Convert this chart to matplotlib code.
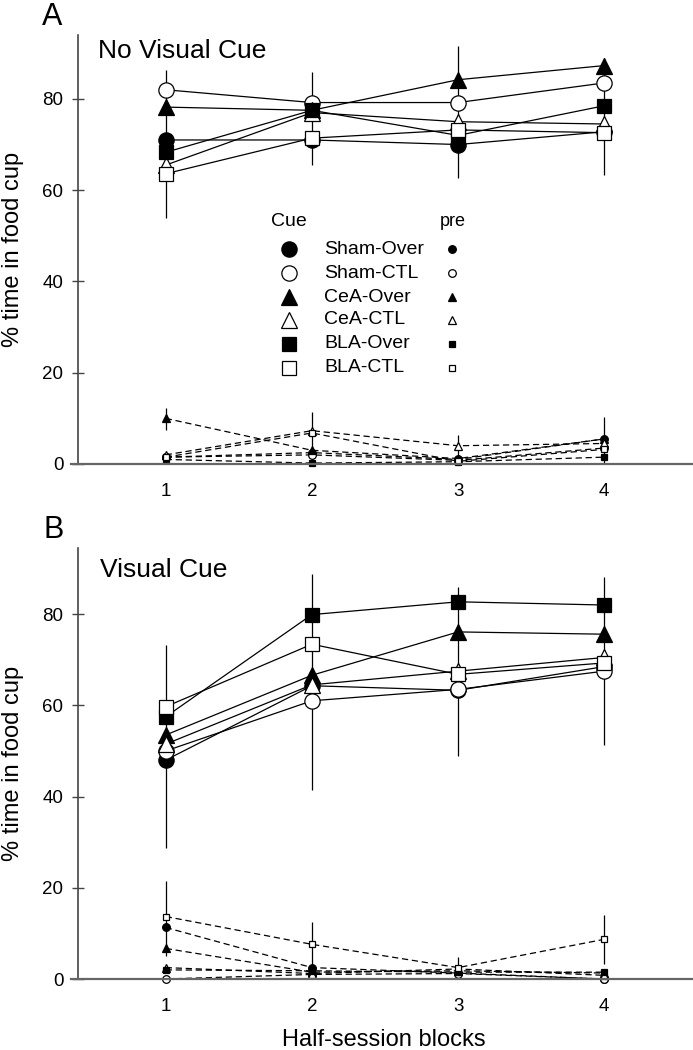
import matplotlib
matplotlib.use('Agg')
import matplotlib.pyplot as plt

plt.rcParams['font.family'] = ['Liberation Sans', 'DejaVu Sans']

blocks = [1, 2, 3, 4]
groups = ['Sham-Over', 'Sham-CTL', 'CeA-Over', 'CeA-CTL', 'BLA-Over', 'BLA-CTL']

# panel A - no visual cue
a_cue = {
    'Sham-Over': [71.0, 71.0, 70.0, 72.8],
    'Sham-CTL': [82.0, 79.2, 79.2, 83.5],
    'CeA-Over': [78.2, 77.5, 84.2, 87.3],
    'CeA-CTL': [65.5, 77.0, 75.0, 74.5],
    'BLA-Over': [68.3, 77.5, 72.0, 78.5],
    'BLA-CTL': [63.6, 71.4, 73.2, 72.6],
}
a_pre = {
    'Sham-Over': [1.5, 2.5, 1.0, 5.5],
    'Sham-CTL': [1.5, 2.0, 0.8, 3.5],
    'CeA-Over': [10.0, 3.0, 1.2, 5.5],
    'CeA-CTL': [2.0, 7.3, 4.0, 4.5],
    'BLA-Over': [1.0, 0.2, 0.5, 1.5],
    'BLA-CTL': [1.5, 6.8, 0.6, 3.2],
}
a_cue_err_lo = [53.8, 65.5, 62.6, 63.3]
a_cue_err_hi = [86.4, 86.0, 91.5, 89.0]
a_pre_err_lo = [7.5, 0.0, 0.0, 0.0]
a_pre_err_hi = [12.3, 11.5, 6.4, 10.4]

# panel B - visual cue
b_cue = {
    'Sham-Over': [48.0, 64.3, 63.3, 68.5],
    'Sham-CTL': [50.0, 61.0, 63.5, 67.5],
    'CeA-Over': [53.5, 66.6, 76.1, 75.6],
    'CeA-CTL': [51.5, 64.5, 67.5, 70.5],
    'BLA-Over': [57.5, 79.9, 82.7, 82.0],
    'BLA-CTL': [59.7, 73.4, 66.8, 69.3],
}
b_pre = {
    'Sham-Over': [11.3, 2.5, 1.3, 0.0],
    'Sham-CTL': [0.0, 1.0, 1.2, 0.0],
    'CeA-Over': [6.7, 1.5, 1.8, 1.3],
    'CeA-CTL': [2.5, 1.2, 2.2, 0.8],
    'BLA-Over': [2.0, 1.8, 1.5, 1.5],
    'BLA-CTL': [13.7, 7.6, 2.5, 8.7],
}
b_cue_err_lo = [28.7, 41.4, 49.0, 51.3]
b_cue_err_hi = [73.2, 88.9, 86.0, 88.2]
b_pre_err_lo = [5.0, 2.0, 1.0, 3.3]
b_pre_err_hi = [21.5, 12.6, 4.9, 14.0]

marker = {'Sham-Over': 'o', 'Sham-CTL': 'o', 'CeA-Over': '^', 'CeA-CTL': '^',
          'BLA-Over': 's', 'BLA-CTL': 's'}
filled = {'Sham-Over': True, 'Sham-CTL': False, 'CeA-Over': True, 'CeA-CTL': False,
          'BLA-Over': True, 'BLA-CTL': False}
msize = {'o': 11, '^': 11, 's': 10}
psize = {'o': 5.5, '^': 5.5, 's': 5}

fig = plt.figure(figsize=(6.93, 10.5), dpi=100)
axA = fig.add_axes([78 / 693, 1 - 464 / 1050, 614 / 693, 429 / 1050])
axB = fig.add_axes([78 / 693, 1 - 979 / 1050, 614 / 693, 431 / 1050])


def draw_panel(ax, cue, pre, c_lo, c_hi, p_lo, p_hi, ytop):
    ax.vlines(blocks, c_lo, c_hi, color='black', lw=0.9, zorder=1)
    ax.vlines(blocks, p_lo, p_hi, color='black', lw=0.9, zorder=1)
    for g in groups:
        m = marker[g]
        fc = 'black' if filled[g] else 'white'
        ax.plot(blocks, pre[g], color='black', lw=0.9, ls=(0, (5, 3)),
                marker=m, ms=psize[m], mfc=fc, mec='black', mew=0.9,
                zorder=2, clip_on=False)
    for g in groups:
        m = marker[g]
        fc = 'black' if filled[g] else 'white'
        ax.plot(blocks, cue[g], color='black', lw=0.9, marker=m, ms=msize[m],
                mfc=fc, mec='black', mew=0.9, zorder=3)
    ax.set_xlim(0.4, 4.6)
    ax.set_ylim(0, ytop)
    ax.set_xticks(blocks)
    ax.set_yticks([0, 20, 40, 60, 80])
    ax.spines['top'].set_visible(False)
    ax.spines['right'].set_visible(False)
    ax.spines['left'].set_color('#444444')
    ax.spines['left'].set_linewidth(1.2)
    ax.spines['bottom'].set_color('#666666')
    ax.spines['bottom'].set_linewidth(1.6)
    ax.spines['bottom'].set_bounds(0.352, 4.6)
    ax.tick_params(axis='y', direction='inout', length=9, width=1.0,
                   color='#444444', labelsize=13.5, pad=6)
    ax.tick_params(axis='x', length=0, labelsize=13.5, pad=14)
    ax.set_ylabel('% time in food cup', fontsize=17)
    ax.yaxis.set_label_coords(-0.088, 0.5)


draw_panel(axA, a_cue, a_pre, a_cue_err_lo, a_cue_err_hi, a_pre_err_lo, a_pre_err_hi, 94)
draw_panel(axB, b_cue, b_pre, b_cue_err_lo, b_cue_err_hi, b_pre_err_lo, b_pre_err_hi, 94.5)

# legend in panel A
tr = axA.transAxes
axA.text(0.3436, 0.566, 'Cue', transform=tr, ha='center', va='center', fontsize=14)
axA.text(0.611, 0.566, 'pre', transform=tr, ha='center', va='center', fontsize=13)
rows = [0.501, 0.445, 0.389, 0.336, 0.280, 0.224]
for g, yy in zip(groups, rows):
    m = marker[g]
    fc = 'black' if filled[g] else 'white'
    axA.plot([0.3436], [yy], transform=tr, marker=m, ms=msize[m], mfc=fc,
             mec='black', mew=0.9, ls='none', clip_on=False)
    axA.plot([0.609], [yy], transform=tr, marker=m, ms=psize[m], mfc=fc,
             mec='black', mew=0.9, ls='none', clip_on=False)
    axA.text(0.4007, yy, g, transform=tr, ha='left', va='center', fontsize=14)

fig.text(42 / 693, 1 - 25 / 1050, 'A', fontsize=22, va='baseline')
fig.text(43 / 693, 1 - 538 / 1050, 'B', fontsize=22, va='baseline')
fig.text(98 / 693, 1 - 58 / 1050, 'No Visual Cue', fontsize=19, va='baseline')
fig.text(100 / 693, 1 - 577 / 1050, 'Visual Cue', fontsize=19, va='baseline')
fig.text(384 / 693, 1 - 1046 / 1050, 'Half-session blocks', fontsize=17,
         ha='center', va='baseline')

fig.savefig('out.png', dpi=100)
